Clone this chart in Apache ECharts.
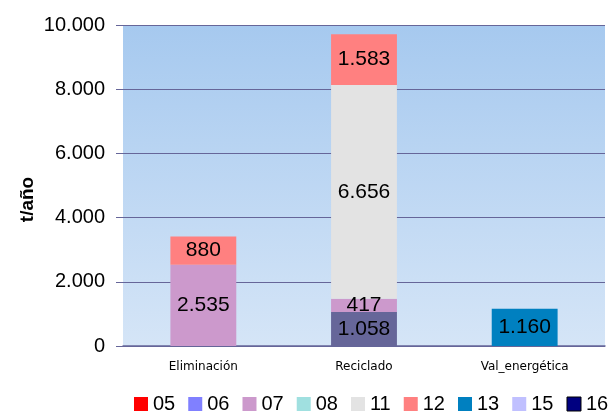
<!DOCTYPE html>
<html>
<head>
<meta charset="utf-8">
<script src="https://cdn.jsdelivr.net/npm/echarts@6/dist/echarts.min.js"></script>
<style>
  html, body { margin: 0; padding: 0; background: #fff; }
  #chart { width: 613px; height: 413px; }
</style>
</head>
<body>
<div id="chart"></div>
<script>
// Waste streams by destination (t/año)
const categories = ['Eliminación', 'Reciclado', 'Val_energética'];
const legendOrder = ['05', '06', '07', '08', '11', '12', '13', '15', '16'];
const s05 = [null, null, null];
const s06 = [null, null, null];
const s07 = [2535, 417, null];
const s08 = [null, null, null];
const s11 = [null, 6656, null];
const s12 = [880, 1583, null];
const s13 = [null, null, 1160];
const s15 = [null, null, null];
const s16 = [null, 1058, null];
const yTicks = [0, 2000, 4000, 6000, 8000, 10000];

const colors = {
  '05': '#ff0000', '06': '#8080ff', '07': '#cc99cc', '08': '#a0e0e0',
  '11': '#e3e3e3', '12': '#ff8080', '13': '#0080c0', '15': '#c0c0ff', '16': '#666699'
};
const legendColors = Object.assign({}, colors, { '16': '#000080' });

const FONT = 'Liberation Sans, Arial, sans-serif';
const fmt = v => String(Math.round(v)).replace(/\B(?=(\d{3})+(?!\d))/g, '.');

// stacking order (bottom to top)
const stackOrder = [
  ['16', s16], ['05', s05], ['06', s06], ['07', s07], ['08', s08],
  ['11', s11], ['12', s12], ['13', s13], ['15', s15]
];

const series = stackOrder.map(([name, data]) => ({
  name: name,
  type: 'bar',
  stack: 'total',
  barWidth: '41%',
  data: data,
  itemStyle: { color: colors[name] },
  label: {
    show: true,
    position: 'inside',
    color: '#000',
    fontFamily: FONT,
    fontSize: 21,
    formatter: p => (p.value == null ? '' : fmt(p.value))
  }
}));

const chart = echarts.init(document.getElementById('chart'), null, { renderer: 'canvas' });
chart.setOption({
  animation: false,
  grid: {
    left: 123, right: 8, top: 25, bottom: 67,
    show: true,
    borderWidth: 0,
    backgroundColor: {
      type: 'linear', x: 0, y: 0, x2: 0, y2: 1,
      colorStops: [
        { offset: 0, color: '#a6c9ef' },
        { offset: 1, color: '#d5e5f7' }
      ]
    }
  },
  legend: {
    left: 134, top: 394, width: 520,
    padding: 0,
    icon: 'rect',
    itemWidth: 14, itemHeight: 14,
    itemGap: 13,
    textStyle: { fontFamily: FONT, fontSize: 20, color: '#000' },
    data: legendOrder.map(n => ({
      name: n,
      itemStyle: n === '16'
        ? { color: legendColors[n], borderColor: '#000', borderWidth: 1 }
        : { color: legendColors[n] }
    }))
  },
  xAxis: {
    type: 'category',
    data: categories,
    axisLine: { lineStyle: { color: '#666699', width: 1.5 } },
    axisTick: { show: false },
    axisLabel: {
      color: '#000', fontSize: 12, margin: 15,
      fontFamily: 'DejaVu Sans, sans-serif'
    }
  },
  yAxis: {
    type: 'value',
    min: yTicks[0], max: yTicks[yTicks.length - 1], interval: 2000,
    name: 't/año',
    nameLocation: 'middle',
    nameGap: 86,
    nameMoveOverlap: false,
    nameTextStyle: {
      fontFamily: FONT, fontSize: 19, fontWeight: 'bold', color: '#000',
      padding: [0, 28, 0, 0]
    },
    axisLine: { show: false },
    axisTick: { show: true, length: 7, inside: false, lineStyle: { color: '#666699' } },
    splitLine: { lineStyle: { color: '#666699', width: 1 } },
    axisLabel: {
      color: '#000', fontSize: 20, margin: 18,
      fontFamily: FONT,
      formatter: v => fmt(v)
    }
  },
  series: series
});
</script>
</body>
</html>
